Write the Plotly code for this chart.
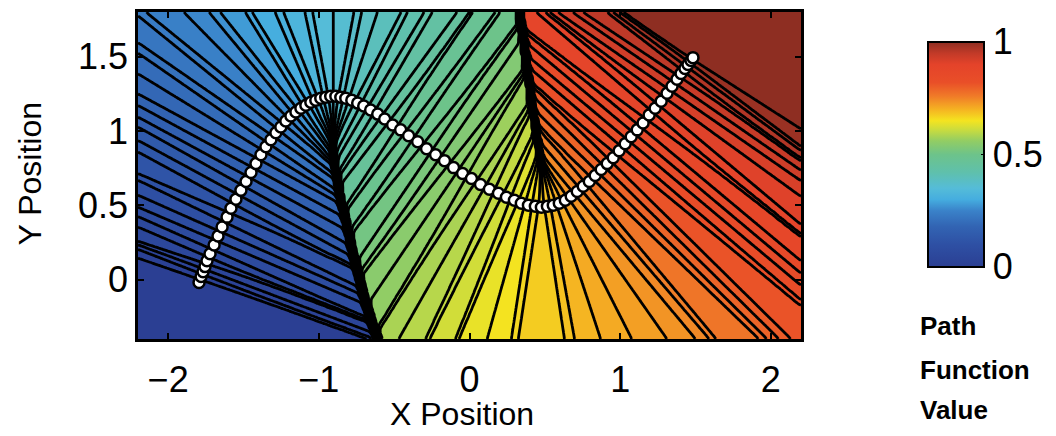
import numpy as np
import plotly.graph_objects as go

# Path waypoints (circles), in data coordinates
path_x = [-1.795, -1.781, -1.768, -1.755, -1.742, -1.722, -1.695, -1.669, -1.642, -1.609,
          -1.583, -1.550, -1.517, -1.483, -1.450, -1.417, -1.384, -1.351, -1.318, -1.285,
          -1.252, -1.219, -1.185, -1.152, -1.119, -1.086, -1.053, -1.020, -0.987, -0.954,
          -0.921, -0.887, -0.854,
          -0.821, -0.781, -0.742, -0.702, -0.656, -0.609, -0.563, -0.510, -0.457, -0.404,
          -0.344, -0.285, -0.225, -0.166, -0.106, -0.046, 0.013, 0.073, 0.132, 0.192,
          0.245, 0.298, 0.344, 0.391, 0.437, 0.477, 0.517, 0.556,
          0.596, 0.636, 0.675, 0.715, 0.755, 0.795, 0.834, 0.874, 0.914, 0.954,
          0.993, 1.033, 1.073, 1.113, 1.152, 1.192, 1.232, 1.272, 1.311, 1.344,
          1.377, 1.404, 1.430, 1.450, 1.470, 1.483]
path_y = [-0.020, 0.020, 0.053, 0.087, 0.127, 0.173, 0.233, 0.293, 0.353, 0.420,
          0.480, 0.540, 0.600, 0.660, 0.720, 0.780, 0.840, 0.893, 0.940, 0.987,
          1.027, 1.067, 1.100, 1.127, 1.153, 1.173, 1.193, 1.207, 1.220, 1.227,
          1.233, 1.233, 1.227,
          1.220, 1.207, 1.187, 1.167, 1.140, 1.113, 1.080, 1.040, 1.007, 0.967,
          0.927, 0.880, 0.840, 0.800, 0.753, 0.713, 0.680, 0.640, 0.607, 0.580,
          0.553, 0.533, 0.513, 0.500, 0.493, 0.487, 0.493, 0.500,
          0.513, 0.533, 0.560, 0.593, 0.627, 0.660, 0.700, 0.740, 0.780, 0.820,
          0.867, 0.913, 0.960, 1.007, 1.053, 1.107, 1.153, 1.200, 1.253, 1.300,
          1.347, 1.387, 1.420, 1.447, 1.473, 1.493]

x_ticks = [-2, -1, 0, 1, 2]
y_ticks = [0, 0.5, 1, 1.5]
cbar_ticks = [0, 0.5, 1]
cbar_ticktext = ['0', '0.5', '1']
x_range = [-2.2, 2.2]
y_range = [-0.4, 1.8]

# Path function: normalized parameter of the nearest point on the path
P = np.column_stack([path_x, path_y])
N = len(P)
gx = np.linspace(x_range[0], x_range[1], 441)
gy = np.linspace(y_range[0], y_range[1], 221)
GX, GY = np.meshgrid(gx, gy)
best_d = np.full(GX.shape, np.inf)
best_v = np.zeros(GX.shape)
for k in range(N - 1):
    ax_, ay_ = P[k]
    dx, dy = P[k + 1] - P[k]
    L2 = dx * dx + dy * dy
    t = np.clip(((GX - ax_) * dx + (GY - ay_) * dy) / L2, 0, 1)
    d = (GX - ax_ - t * dx) ** 2 + (GY - ay_ - t * dy) ** 2
    m = d < best_d
    best_d[m] = d[m]
    best_v[m] = (k + t[m]) / (N - 1)


def gaussian_blur(a, sigma):
    r = int(np.ceil(3 * sigma))
    ker = np.exp(-0.5 * (np.arange(-r, r + 1) / sigma) ** 2)
    ker /= ker.sum()
    b = np.pad(a, r, mode='edge')
    b = np.apply_along_axis(lambda v: np.convolve(v, ker, mode='valid'), 1, b)
    b = np.apply_along_axis(lambda v: np.convolve(v, ker, mode='valid'), 0, b)
    return b


Z = gaussian_blur(best_v, 1.2)

colorscale = [
    [0.00, '#2b3f93'], [0.10, '#2e50a4'], [0.18, '#3264b3'], [0.25, '#3a82c9'],
    [0.30, '#45addf'], [0.35, '#55bcd8'], [0.42, '#5fc0ac'], [0.50, '#6dc38a'],
    [0.56, '#92cd64'], [0.61, '#cadc3e'], [0.65, '#f4e420'], [0.70, '#f5b322'],
    [0.76, '#f07a28'], [0.82, '#e94f28'], [0.90, '#e4432a'], [0.95, '#c23a28'],
    [1.00, '#8e2e22'],
]

FONT = 'Liberation Sans, Arial, Helvetica, sans-serif'

# page pixel -> paper coords (page has 8px body margin; plot area page x 138..801, y 9..339)
def px(page_x):
    return (page_x - 138) / 663.0

def py(page_y):
    return (339 - page_y) / 330.0

step = 1.0 / (N - 1)
fig = go.Figure()
fig.add_trace(go.Contour(
    x=gx, y=gy, z=Z, zmin=0, zmax=1,
    colorscale=colorscale, showscale=False,
    contours=dict(start=0.5 * step, end=1 - 0.5 * step, size=step, coloring='fill'),
    line=dict(color='black', width=2.8, smoothing=0.6),
    hoverinfo='skip',
))
fig.add_trace(go.Scatter(
    x=path_x, y=path_y, mode='markers',
    marker=dict(size=11, color='white', line=dict(color='black', width=2.5)),
    hoverinfo='skip', showlegend=False,
))
# colour bar carrier (point lies outside the visible range)
fig.add_trace(go.Scatter(
    x=[10], y=[10], mode='markers', showlegend=False, hoverinfo='skip',
    marker=dict(color=[0.5], cmin=0, cmax=1, colorscale=colorscale, showscale=True,
                colorbar=dict(
                    thickness=56, lenmode='pixels', len=225,
                    x=px(928), xanchor='left', y=py(152.5), yanchor='middle',
                    xpad=0, ypad=0, outlinewidth=2, outlinecolor='black',
                    tickvals=cbar_ticks, ticktext=cbar_ticktext,
                    ticks='inside', ticklen=4, tickcolor='black',
                    tickfont=dict(family=FONT, size=36, color='black'),
                )),
))

axis_common = dict(
    showline=True, linecolor='black', linewidth=2.5, mirror='ticks',
    ticks='inside', ticklen=6, tickwidth=1.5, tickcolor='black',
    showgrid=False, zeroline=False,
    tickfont=dict(family=FONT, size=36, color='black'),
)
fig.update_xaxes(range=x_range, tickvals=x_ticks, ticklabelstandoff=7, **axis_common)
fig.update_yaxes(range=y_range, tickvals=y_ticks, ticklabelstandoff=0, **axis_common)

fig.add_annotation(text='X Position', xref='paper', yref='paper', x=px(462), y=py(415),
                   xanchor='center', yanchor='middle', showarrow=False,
                   font=dict(family=FONT, size=32, color='black'))
fig.add_annotation(text='Y Position', xref='paper', yref='paper', x=px(30), y=py(172),
                   xanchor='center', yanchor='middle', showarrow=False, textangle=-90,
                   font=dict(family=FONT, size=32, color='black'))

for txt, yy in [('Path', 326), ('Function', 370), ('Value', 411)]:
    fig.add_annotation(text='<b>%s</b>' % txt, xref='paper', yref='paper',
                       x=px(918), y=py(yy),
                       xanchor='left', yanchor='middle', showarrow=False,
                       font=dict(family=FONT, size=26, color='black'))

fig.update_layout(
    width=1048, height=428,
    margin=dict(l=130, r=255, t=1, b=97),
    plot_bgcolor='white', paper_bgcolor='white',
    showlegend=False,
)
fig.write_html('out.html')
